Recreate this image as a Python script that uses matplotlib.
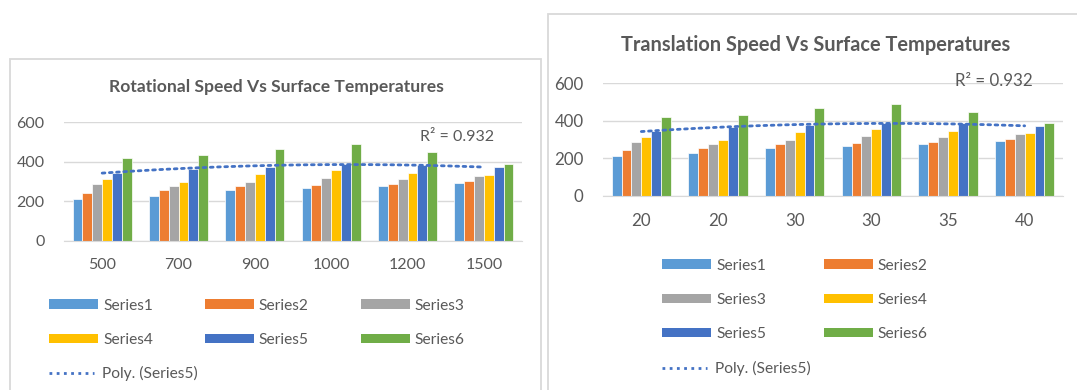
import matplotlib.pyplot as plt
import numpy as np
from matplotlib.patches import Rectangle, Patch
from matplotlib.lines import Line2D

# surface temperature readings for six series (same table used in both charts)
rot_speeds = ["500", "700", "900", "1000", "1200", "1500"]
trans_speeds = ["20", "20", "30", "30", "35", "40"]
series1 = [214, 228, 258, 268, 278, 292]
series2 = [243, 258, 278, 281, 287, 305]
series3 = [287, 278, 297, 320, 315, 329]
series4 = [315, 300, 339, 357, 344, 334]
series5 = [344, 366, 376, 389, 386, 372]
series6 = [420, 433, 467, 490, 448, 389]
series_names = ["Series1", "Series2", "Series3", "Series4", "Series5", "Series6"]
colors = ["#5B9BD5", "#ED7D31", "#A5A5A5", "#FFC000", "#4472C4", "#70AD47"]
r2_label = "R² = 0.932"

W, H = 1077, 390
TXT = "#595959"
GRID = "#D9D9D9"
DOTS = (0, (1, 1.6))
plt.rcParams["font.family"] = ["Lato", "DejaVu Sans"]

fig = plt.figure(figsize=(W / 100, H / 100), dpi=100)


def fx(x):
    return x / W


def fy(y):
    return 1 - y / H


def panel(x0, y0, x1, y1):
    fig.patches.append(Rectangle((fx(x0), fy(y1)), fx(x1 - x0), (y1 - y0) / H,
                                 transform=fig.transFigure, fill=False,
                                 edgecolor=GRID, lw=1.3, clip_on=False))


def draw_chart(box, cats, title, title_xy, title_size, tick_size, r2_xy):
    x0, y0, x1, y1 = box
    ax = fig.add_axes([fx(x0), fy(y1), fx(x1 - x0), (y1 - y0) / H])
    data = [series1, series2, series3, series4, series5, series6]
    n = len(data)
    bw = 0.129
    xs = np.arange(len(cats))
    for i, vals in enumerate(data):
        ax.bar(xs + (i - (n - 1) / 2) * bw, vals, bw, color=colors[i],
               edgecolor="white", linewidth=0.5, zorder=2)
    # 2nd order polynomial trend of Series5
    coef = np.polyfit(xs, series5, 2)
    xf = np.linspace(xs[0], xs[-1], 200)
    ax.plot(xf, np.polyval(coef, xf), color="#4472C4", lw=2.0,
            linestyle=DOTS, dash_capstyle="round", zorder=3)
    ax.set_xlim(-0.5, len(cats) - 0.5)
    ax.set_ylim(0, 600)
    ax.set_yticks([0, 200, 400, 600])
    ax.set_xticks(xs)
    ax.set_xticklabels(cats)
    ax.grid(axis="y", color=GRID, lw=1, zorder=0)
    ax.set_axisbelow(True)
    for s in ["top", "right", "left"]:
        ax.spines[s].set_visible(False)
    ax.spines["bottom"].set_color(GRID)
    ax.tick_params(length=0, colors=TXT, labelsize=tick_size)
    ax.tick_params(axis="x", pad=12)
    ax.tick_params(axis="y", pad=14)
    fig.text(fx(title_xy[0]), fy(title_xy[1]), title, ha="center", va="center",
             fontsize=title_size, fontweight="bold", color=TXT)
    fig.text(fx(r2_xy[0]), fy(r2_xy[1]), r2_label, ha="left", va="center",
             fontsize=tick_size, color=TXT)
    return ax


def legends(ax, x, y, ncol, colsp, poly_y):
    handles = [Patch(facecolor=c, edgecolor="none") for c in colors]
    nrow = int(np.ceil(len(handles) / ncol))
    # matplotlib fills columns first, reorder so entries read across rows
    order = [r * ncol + c for c in range(ncol) for r in range(nrow)]
    leg = fig.legend([handles[k] for k in order], [series_names[k] for k in order],
                     ncol=ncol, loc="upper left", bbox_to_anchor=(fx(x), fy(y)),
                     frameon=False, fontsize=11.2, labelcolor=TXT, borderpad=0,
                     borderaxespad=0, handlelength=3.15, handleheight=0.55,
                     handletextpad=0.33, columnspacing=colsp, labelspacing=1.3)
    fig.legend([Line2D([], [], color="#4472C4", lw=2.0, linestyle=DOTS)],
               ["Poly. (Series5)"], loc="upper left",
               bbox_to_anchor=(fx(x), fy(poly_y)), frameon=False, fontsize=11.2,
               labelcolor=TXT, borderpad=0, borderaxespad=0, handlelength=2.9,
               handletextpad=0.5)
    return leg


panel(10, 59, 541, 420)
panel(548, 14, 1086, 420)

ax1 = draw_chart((64, 122.3, 522, 241), rot_speeds,
                 "Rotational Speed Vs Surface Temperatures", (276, 87), 12.6, 11.5,
                 (420, 137))
ax2 = draw_chart((603, 83.3, 1063, 196), trans_speeds,
                 "Translation Speed Vs Surface Temperatures", (816, 45), 14.4, 12.2,
                 (955, 81))

legends(ax1, 49, 298.5, 3, 3.33, 366)
legends(ax2, 662, 258.5, 2, 3.7, 361)

fig.savefig("out.png", dpi=100)
